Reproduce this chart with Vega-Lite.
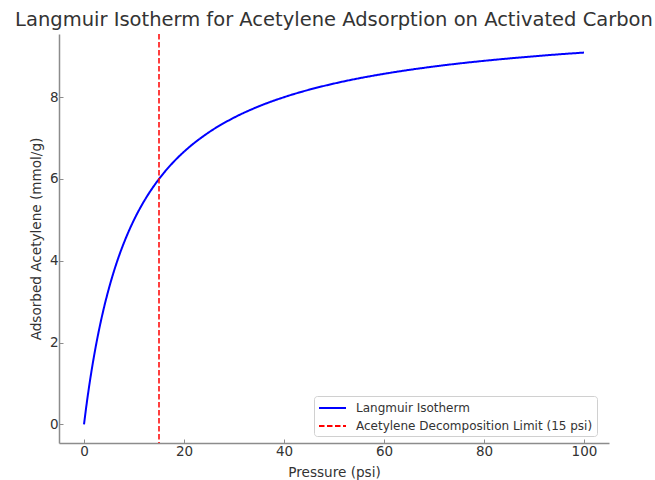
{
  "$schema": "https://vega.github.io/schema/vega-lite/v6.json",
  "width": 550,
  "height": 409,
  "autosize": {"type": "none"},
  "padding": {"left": 59, "top": 34, "right": 46, "bottom": 37},
  "background": "white",
  "config": {
    "font": "DejaVu Sans",
    "view": {"stroke": null},
    "axis": {
      "grid": false,
      "domainColor": "#8c8c8c",
      "domainWidth": 1.5,
      "tickColor": "#8c8c8c",
      "tickWidth": 1,
      "tickSize": -4,
      "labelFont": "DejaVu Sans",
      "labelFontSize": 13.5,
      "labelColor": "#333333",
      "titleFont": "DejaVu Sans",
      "titleFontSize": 13.6,
      "titleFontWeight": "normal",
      "titleColor": "#333333",
      "labelPadding": 5
    }
  },
  "title": {
    "text": "Langmuir Isotherm for Acetylene Adsorption on Activated Carbon",
    "font": "DejaVu Sans",
    "fontSize": 19.5,
    "fontWeight": "normal",
    "color": "#333333",
    "anchor": "middle",
    "frame": "group",
    "offset": 3
  },
  "datasets": {
    "curve": [
      {"P": 0, "q": 0},
      {"P": 0.5, "q": 0.476},
      {"P": 1, "q": 0.909},
      {"P": 2, "q": 1.667},
      {"P": 3, "q": 2.308},
      {"P": 4, "q": 2.857},
      {"P": 5, "q": 3.333},
      {"P": 6, "q": 3.75},
      {"P": 7, "q": 4.118},
      {"P": 8, "q": 4.444},
      {"P": 9, "q": 4.737},
      {"P": 10, "q": 5.0},
      {"P": 12, "q": 5.455},
      {"P": 14, "q": 5.833},
      {"P": 16, "q": 6.154},
      {"P": 18, "q": 6.429},
      {"P": 20, "q": 6.667},
      {"P": 25, "q": 7.143},
      {"P": 30, "q": 7.5},
      {"P": 35, "q": 7.778},
      {"P": 40, "q": 8.0},
      {"P": 45, "q": 8.182},
      {"P": 50, "q": 8.333},
      {"P": 55, "q": 8.462},
      {"P": 60, "q": 8.571},
      {"P": 65, "q": 8.667},
      {"P": 70, "q": 8.75},
      {"P": 75, "q": 8.824},
      {"P": 80, "q": 8.889},
      {"P": 85, "q": 8.947},
      {"P": 90, "q": 9.0},
      {"P": 95, "q": 9.048},
      {"P": 100, "q": 9.091}
    ],
    "limit": [
      {"P": 15, "series": "Acetylene Decomposition Limit (15 psi)"}
    ]
  },
  "layer": [
    {
      "data": {"name": "curve"},
      "transform": [{"calculate": "'Langmuir Isotherm'", "as": "series"}],
      "mark": {"type": "line", "strokeWidth": 2, "interpolate": "monotone"},
      "encoding": {
        "x": {
          "field": "P",
          "type": "quantitative",
          "scale": {"domain": [-5, 105], "nice": false, "zero": false},
          "axis": {"values": [0, 20, 40, 60, 80, 100], "title": "Pressure (psi)", "titlePadding": 8}
        },
        "y": {
          "field": "q",
          "type": "quantitative",
          "scale": {"domain": [-0.4545, 9.545], "nice": false, "zero": false},
          "axis": {"values": [0, 2, 4, 6, 8], "title": "Adsorbed Acetylene (mmol/g)", "titlePadding": 6}
        },
        "color": {
          "field": "series",
          "type": "nominal",
          "scale": {
            "domain": ["Langmuir Isotherm", "Acetylene Decomposition Limit (15 psi)"],
            "range": ["#0000ff", "#ff0000"]
          },
          "legend": {
            "title": null,
            "orient": "none",
            "legendX": 255,
            "legendY": 362,
            "symbolType": "M-1,0H2.857",
            "symbolSize": 196,
            "symbolStrokeWidth": 2,
            "labelFontSize": 12,
            "labelFont": "DejaVu Sans",
            "labelColor": "#333333",
            "labelLimit": 0,
            "strokeColor": "#d0d0d0",
            "fillColor": "white",
            "cornerRadius": 3,
            "padding": 4,
            "rowPadding": 4,
            "labelOffset": 22
          }
        },
        "strokeDash": {
          "field": "series",
          "type": "nominal",
          "scale": {
            "domain": ["Langmuir Isotherm", "Acetylene Decomposition Limit (15 psi)"],
            "range": [[1, 0], [5.5, 2.5]]
          },
          "legend": {
            "title": null,
            "orient": "none",
            "legendX": 255,
            "legendY": 362,
            "symbolType": "M-1,0H2.857",
            "symbolSize": 196,
            "symbolStrokeWidth": 2,
            "labelFontSize": 12,
            "labelFont": "DejaVu Sans",
            "labelColor": "#333333",
            "labelLimit": 0,
            "strokeColor": "#d0d0d0",
            "fillColor": "white",
            "cornerRadius": 3,
            "padding": 4,
            "rowPadding": 4,
            "labelOffset": 22
          }
        }
      }
    },
    {
      "data": {"name": "limit"},
      "mark": {"type": "rule", "strokeWidth": 1.5},
      "encoding": {
        "x": {"field": "P", "type": "quantitative"},
        "color": {"field": "series", "type": "nominal"},
        "strokeDash": {"field": "series", "type": "nominal"}
      }
    }
  ]
}
